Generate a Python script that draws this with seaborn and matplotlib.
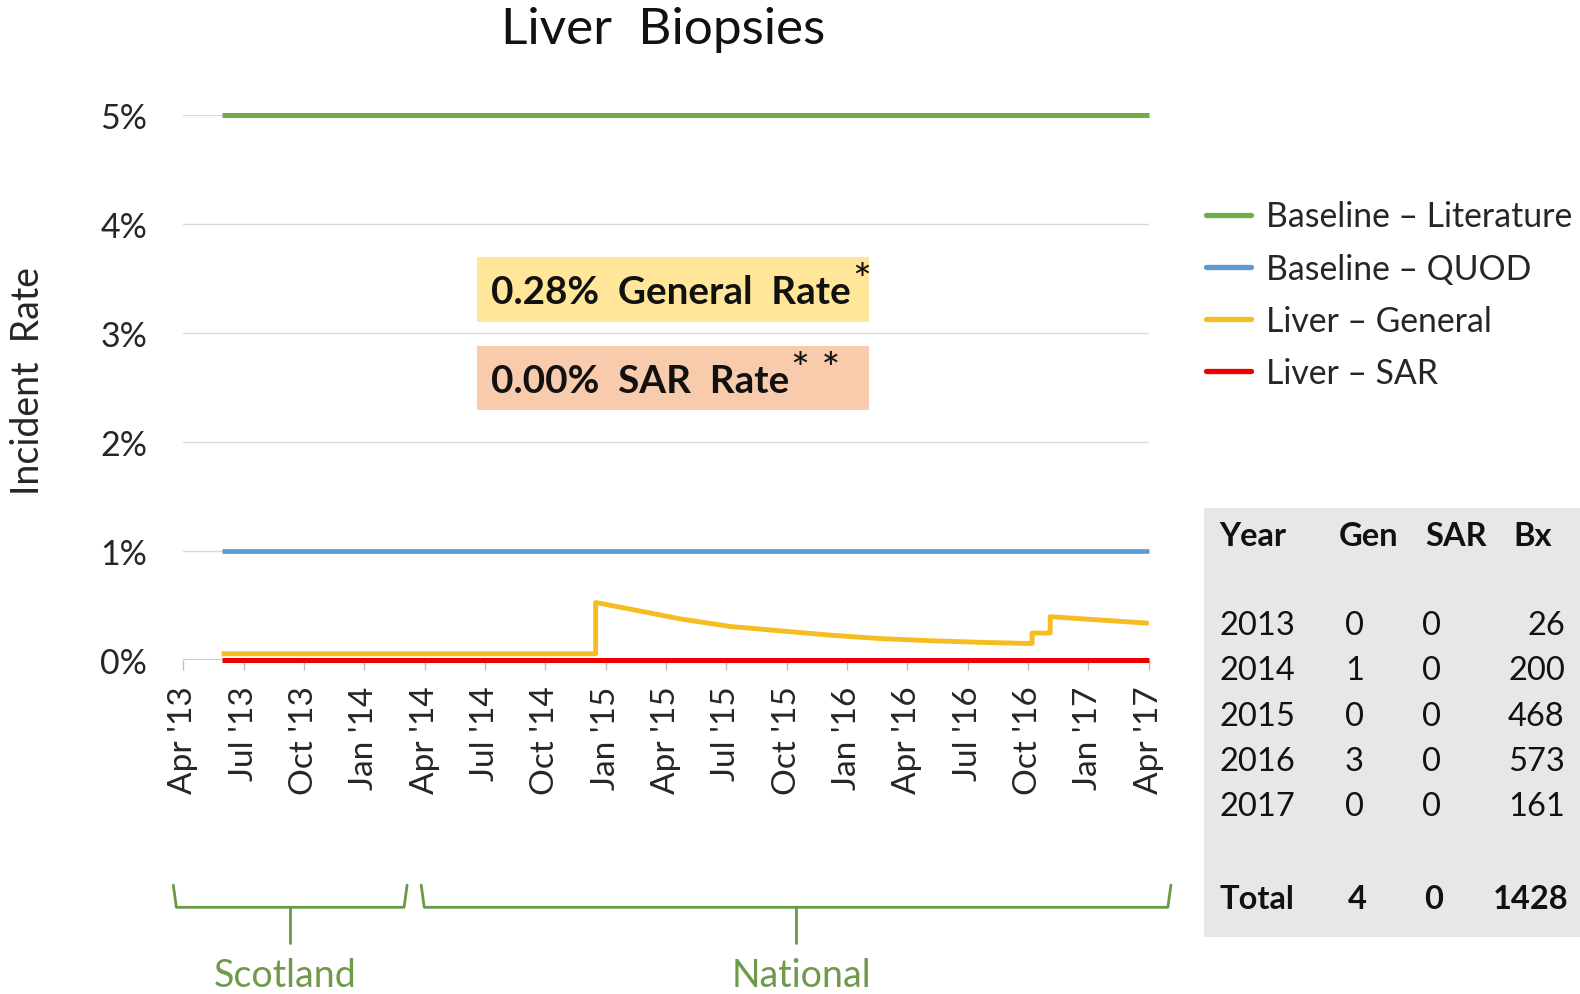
import numpy as np
import pandas as pd
import matplotlib
matplotlib.use("Agg")
import matplotlib.pyplot as plt
from matplotlib.lines import Line2D
import seaborn as sns

# ---------------- data ----------------
tick_labels = ["Apr '13", "Jul '13", "Oct '13", "Jan '14", "Apr '14", "Jul '14", "Oct '14",
               "Jan '15", "Apr '15", "Jul '15", "Oct '15", "Jan '16", "Apr '16", "Jul '16",
               "Oct '16", "Jan '17", "Apr '17"]
tick_months = [0, 3, 6, 9, 12, 15, 18, 21, 24, 27, 30, 33, 36, 39, 42, 45, 48]

baseline_month = [1.9, 48]
literature_rate = [5.0, 5.0]
quod_rate = [1.0, 1.0]
sar_rate = [0.0, 0.0]

general_month = [1.9, 20.5, 20.5, 22.2, 24.7, 27.2, 29.7, 32.2, 34.6, 37.1, 39.6,
                 41.9, 42.2, 42.2, 43.1, 43.1, 48.0]
general_rate = [0.06, 0.06, 0.53, 0.47, 0.38, 0.31, 0.27, 0.23, 0.20, 0.18, 0.165,
                0.155, 0.155, 0.25, 0.25, 0.40, 0.34]

series_names = ["Baseline – Literature", "Baseline – QUOD", "Liver – General", "Liver – SAR"]
series_colors = ["#70AD47", "#5B9BD5", "#F5BD1F", "#EE0000"]

table_header = ["Year", "Gen", "SAR", "Bx"]
table_years = ["2013", "2014", "2015", "2016", "2017"]
table_gen = [0, 1, 0, 3, 0]
table_sar = [0, 0, 0, 0, 0]
table_bx = [26, 200, 468, 573, 161]
table_total = ["Total", 4, 0, 1428]

general_rate_text = "0.28%"
sar_rate_text = "0.00%"

# ---------------- style ----------------
sns.set_theme(style="white")
plt.rcParams['font.family'] = ['Lato', 'DejaVu Sans']
TXT = "#262626"

W, H = 1568.0, 987.0
X = lambda px: px / W
Y = lambda py: 1 - py / H

fig = plt.figure(figsize=(15.8, 9.95), dpi=100)
ax = fig.add_axes([X(182), Y(656), (1140 - 182) / W, (656 - 115) / H])

ax.set_xlim(0, 48)
ax.set_ylim(0, 5)
for v in [1, 2, 3, 4, 5]:
    ax.axhline(v, color="#D9D9D9", lw=1.0, zorder=0)
ax.axhline(0, color="#BFBFBF", lw=1.2, zorder=0)

lw_map = [3.6, 3.4, 3.5, 3.6]
df_list = [
    pd.DataFrame({"m": baseline_month, "r": literature_rate}),
    pd.DataFrame({"m": baseline_month, "r": quod_rate}),
    pd.DataFrame({"m": general_month, "r": general_rate}),
    pd.DataFrame({"m": baseline_month, "r": sar_rate}),
]
for d, c, lw in zip(df_list, series_colors, lw_map):
    sns.lineplot(data=d, x="m", y="r", ax=ax, color=c, lw=lw, estimator=None,
                 sort=False, clip_on=False, solid_capstyle="butt")

for s in ax.spines.values():
    s.set_visible(False)

ax.set_xticks(tick_months)
ax.set_xticklabels(tick_labels, rotation=90, fontsize=24, color=TXT)
ax.tick_params(axis="x", length=7, width=1, color="#BFBFBF", pad=11, bottom=True, direction="out")
ax.set_yticks([0, 1, 2, 3, 4, 5])
ax.set_yticklabels(["0%", "1%", "2%", "3%", "4%", "5%"], fontsize=24.5, color=TXT)
ax.tick_params(axis="y", length=0, pad=26)
ax.set_xlabel("")
ax.set_ylabel("")
ax.grid(False)

fig.text(X(28), Y(378), "Incident  Rate", rotation=90, ha="center", va="center",
         fontsize=27, color=TXT)
fig.text(X(658), Y(30), "Liver  Biopsies", ha="center", va="center", fontsize=37, color="#111111")

# legend
handles = [Line2D([0], [0], color=c, lw=3.8) for c in series_colors]
fig.legend(handles, series_names, loc="upper left",
           bbox_to_anchor=(X(1180), Y(183)), frameon=False, fontsize=24.3,
           handlelength=1.35, handletextpad=0.42, labelspacing=0.6, borderpad=0,
           labelcolor=TXT)

# rate boxes
for (y0, y1, col, val, label, star) in [(256, 320, "#FFE699", general_rate_text, "General  Rate", "*"),
                                         (344, 408, "#F8CBAD", sar_rate_text, "SAR  Rate", "* *")]:
    fig.patches.append(plt.Rectangle((X(473), Y(y1)), (862 - 473) / W, (y1 - y0) / H,
                                     transform=fig.transFigure, facecolor=col, edgecolor="none"))
    t = fig.text(X(487), Y((y0 + y1) / 2 + 2), f"{val}  {label}", ha="left", va="center",
                 fontsize=27.8, fontweight="bold", color="#111111")
    fig.canvas.draw()
    bb = t.get_window_extent()
    fig.text((bb.x1 + 2) / fig.bbox.width, Y(y0 + 4), star, ha="left", va="top",
             fontsize=32, color="#111111")

# table
fig.patches.append(plt.Rectangle((X(1195), Y(930)), (1580 - 1195) / W, (930 - 505) / H,
                                 transform=fig.transFigure, facecolor="#E7E7E7", edgecolor="none"))
def ft(x, y, s, ha, bold=False):
    fig.text(X(x), Y(y), s, ha=ha, va="center", fontsize=23.5, color="#111111",
             fontweight="bold" if bold else "normal")
ft(1210, 532, table_header[0], "left", True)
ft(1358, 532, table_header[1], "center", True)
ft(1445, 532, table_header[2], "center", True)
ft(1521, 532, table_header[3], "center", True)
row_y = [621, 666, 711, 756, 801]
for yv, g, s_, b, y in zip(table_years, table_gen, table_sar, table_bx, row_y):
    ft(1210, y, yv, "left")
    ft(1344, y, str(g), "center")
    ft(1421, y, str(s_), "center")
    ft(1553, y, str(b), "right")
ft(1210, 892, table_total[0], "left", True)
ft(1347, 892, str(table_total[1]), "center", True)
ft(1423, 892, str(table_total[2]), "center", True)
ft(1557, 892, str(table_total[3]), "right", True)

# brackets
BR = "#6A9A44"
def bracket(x0, x1, xm):
    fig.add_artist(Line2D([X(x0), X(x0 + 3), X(x1 - 3), X(x1)], [Y(879), Y(901), Y(901), Y(879)],
                          color=BR, lw=2))
    fig.add_artist(Line2D([X(xm), X(xm)], [Y(901), Y(936)], color=BR, lw=2))
bracket(172, 404, 288)
bracket(418, 1162, 790)
fig.text(X(283), Y(968), "Scotland", ha="center", va="center", fontsize=27, color="#6E9A4A")
fig.text(X(795), Y(968), "National", ha="center", va="center", fontsize=27, color="#6E9A4A")

fig.savefig("out.png", dpi=100)
